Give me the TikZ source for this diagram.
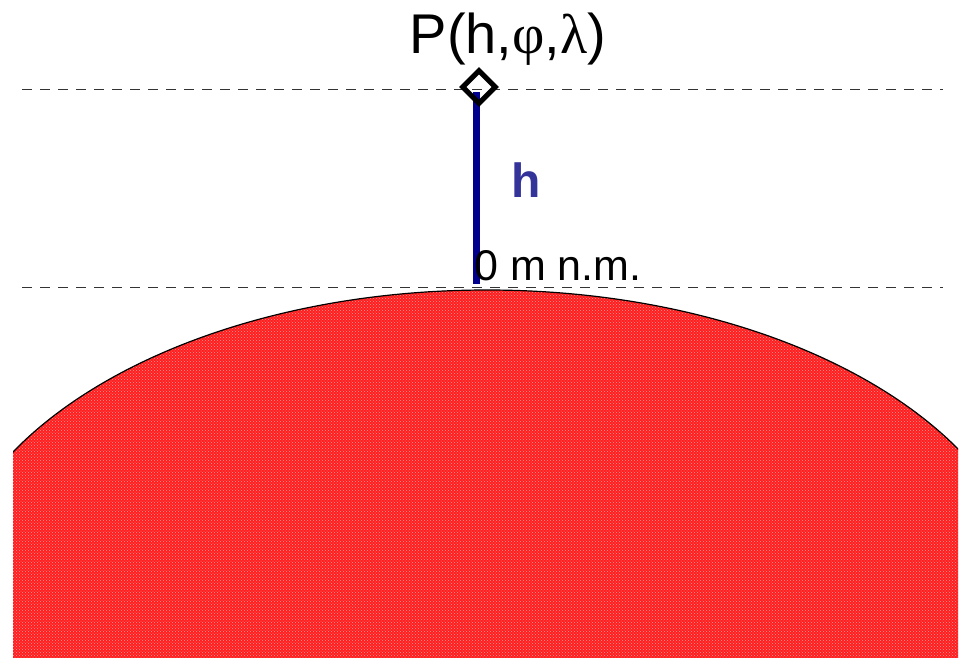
\documentclass[tikz,border=0pt]{standalone}
\usepackage{fontspec}
\setmainfont{Liberation Sans}
\newfontfamily\grk{Liberation Serif}
\usetikzlibrary{patterns}
\definecolor{earthred}{RGB}{255,30,30}
\definecolor{dotpink}{RGB}{255,150,150}
\definecolor{hblue}{RGB}{51,51,153}
\definecolor{navyline}{RGB}{0,0,140}
\tikzset{
  level/.style={draw=black!80, line width=1pt, dash pattern=on 10pt off 8pt},
  label/.style={inner sep=0pt, anchor=base},
  pmark/.style={draw=black, line width=5pt, minimum size=23pt, inner sep=0pt, rotate=45},
}
\begin{document}
\begin{tikzpicture}[x=1pt,y=-1pt]
\useasboundingbox (0,0) rectangle (963,657);
% earth
\begin{scope}
  \clip (13,0) rectangle (958,657);
  \fill[earthred] (487,610) ellipse [x radius=545, y radius=320];
  \fill[pattern=crosshatch dots, pattern color=dotpink] (487,610) ellipse [x radius=545, y radius=320];
\end{scope}
\begin{scope}
  \clip (13,0) rectangle (958,455);
  \draw[line width=1.2pt] (487,610) ellipse [x radius=545, y radius=320];
\end{scope}
% levels
\coordinate (t1) at (22,89);
\coordinate (t2) at (943,89);
\coordinate (b1) at (22,287);
\coordinate (b2) at (943,287);
\draw[level] (t1) -- (t2);
\draw[level] (b1) -- (b2);
% height line
\coordinate (base) at (476,284);
\coordinate (ptop) at (476,92);
\draw[navyline, line width=7pt] (ptop) -- (base);
\node[pmark] (P) at (479,87) {};
% labels
\node[label, font=\fontsize{56}{60}\selectfont] (lp) at (508,53) {P(h,{\grk φ},{\grk λ})};
\node[label, font=\fontsize{48}{52}\selectfont\bfseries, text=hblue] (lh) at (526,197) {h};
\node[label, anchor=base west, font=\fontsize{43}{48}\selectfont] (l0) at (474,280) {0 m n.m.};
\end{tikzpicture}
\end{document}
